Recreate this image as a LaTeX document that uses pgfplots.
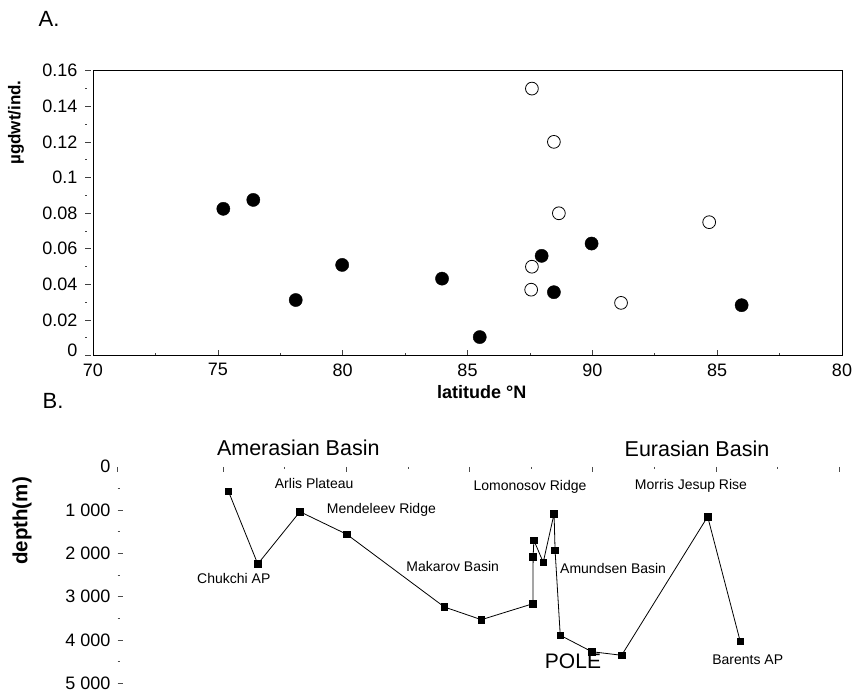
\documentclass[border=0pt]{standalone}
\usepackage{fontspec}
\setmainfont{Liberation Sans}
\usepackage{pgfplots}
\pgfplotsset{compat=1.18}
\begin{document}
\begin{tikzpicture}[x=1pt,y=1pt]
\path[use as bounding box] (0,0) rectangle (862,693);
% ---------------- Panel A ----------------
\begin{axis}[
  at={(93pt,337.4pt)}, anchor=south west,
  scale only axis, width=749pt, height=285pt,
  xmin=70, xmax=100, ymin=0, ymax=0.16,
  xtick={70,75,80,85,90,95,100},
  xticklabels={70,75,80,85,90,85,80},
  minor xtick={72.5,77.5,82.5,87.5,92.5,97.5},
  ytick={0,0.02,0.04,0.06,0.08,0.1,0.12,0.14,0.16},
  yticklabels={\raisebox{11.5pt}{0}\hspace{-5pt},0.02,0.04,0.06,0.08,0.1,0.12,0.14,0.16},
  minor ytick={0.01,0.03,0.05,0.07,0.09,0.11,0.13,0.15},
  tick pos=left, tick align=inside,
  major tick length=5.5pt, minor tick length=2.3pt,
  tick style={line width=0.6pt, black!75},
  y tick style={xshift=-8pt},
  axis line style={line width=0.8pt},
  tick label style={font=\fontsize{18}{20}\selectfont},
  yticklabel style={xshift=-12pt},
  xticklabel style={yshift=-4.4pt},
  /pgf/number format/assume math mode=true,
  clip=false,
]
\addplot[only marks, mark=*, mark size=6.6pt, mark options={fill=black, draw=black}] coordinates {
(75.22,0.0824) (76.42,0.0874) (78.12,0.0312) (79.98,0.0509) (83.98,0.0432)
(85.49,0.0104) (87.97,0.0560) (88.46,0.0356) (89.97,0.0629) (95.98,0.0283)
};
\addplot[only marks, mark=*, mark size=6.4pt, mark options={fill=white, draw=black, line width=0.8pt}] coordinates {
(87.58,0.1499) (88.46,0.1200) (88.66,0.0799) (87.58,0.0499) (87.55,0.0370)
(91.15,0.0296) (94.68,0.0749)
};
\end{axis}
% ---------------- Panel B ----------------
\begin{axis}[
  at={(117.5pt,9.7pt)}, anchor=south west,
  scale only axis, width=721.8pt, height=216.5pt,
  xmin=70.72, xmax=100, ymin=0, ymax=5000, y dir=reverse,
  axis x line=top, axis y line=left, axis line style={draw=none,-},
  tick align=inside,
  xtick={70.72,75,80,85,90,95,100},
  xticklabels={\relax,\relax,\relax,\relax,\relax,\relax,\relax},
  minor xtick={77.5,82.5,87.5,92.5,97.5},
  ytick={1000,2000,3000,4000,5000},
  yticklabels={1 000,2 000,3 000,4 000,5 000},
  extra y ticks={0}, extra y tick labels={0},
  extra y tick style={major tick length=0pt},
  minor ytick={500,1500,2500,3500,4500},
  major tick length=5.6pt, minor tick length=2.4pt,
  tick style={line width=0.6pt, black!70},
  tick label style={font=\fontsize{18}{20}\selectfont},
  yticklabel style={xshift=-3.5pt},
  /pgf/number format/assume math mode=true,
  clip=false,
]
\addplot[black, line width=0.8pt, mark=square*, mark size=3.3pt, mark options={solid, fill=black}] coordinates {
(75.22,566) (76.41,2245) (78.12,1037) (80.02,1559) (83.98,3238) (85.48,3531)
(87.57,3162) (87.58,2076) (87.61,1697) (87.99,2206) (88.43,1083) (88.47,1928)
(88.68,3891) (89.96,4270) (91.17,4353) (94.66,1152) (95.98,4030)
};
\end{axis}
% ---------------- Labels ----------------
\node[anchor=base, font=\fontsize{22}{24}\selectfont] at (49,666.5) {A.};
\node[anchor=base, font=\fontsize{22}{24}\selectfont] at (53,284.7) {B.};
\node[rotate=90, anchor=center, font=\fontsize{17}{19}\selectfont\bfseries] at (16,570.5) {µgdwt/ind.};
\node[anchor=base, font=\fontsize{18}{20}\selectfont\bfseries] at (481.7,294.7) {latitude °N};
\node[rotate=90, anchor=center, font=\fontsize{20.5}{22}\selectfont\bfseries] at (22,172) {depth(m)};
\node[anchor=base, font=\fontsize{21.5}{23}\selectfont] at (298.3,237.3) {Amerasian Basin};
\node[anchor=base, font=\fontsize{21.5}{23}\selectfont] at (697,236) {Eurasian Basin};
\node[anchor=base, font=\fontsize{14}{16}\selectfont] at (314.2,204) {Arlis Plateau};
\node[anchor=base west, inner sep=0pt, font=\fontsize{14}{16}\selectfont] at (326.7,179) {Mendeleev Ridge};
\node[anchor=base, font=\fontsize{14}{16}\selectfont] at (233.8,109.7) {Chukchi AP};
\node[anchor=base, font=\fontsize{14}{16}\selectfont] at (452.7,121.3) {Makarov Basin};
\node[anchor=base, font=\fontsize{14}{16}\selectfont] at (530,202) {Lomonosov Ridge};
\node[anchor=base, font=\fontsize{14}{16}\selectfont] at (691,203) {Morris Jesup Rise};
\node[anchor=base west, inner sep=0pt, font=\fontsize{14}{16}\selectfont] at (560,119) {Amundsen Basin};
\node[anchor=base, font=\fontsize{21}{23}\selectfont] at (573,24.8) {POLE};
\node[anchor=base, font=\fontsize{14}{16}\selectfont] at (747.7,28.7) {Barents AP};
\end{tikzpicture}
\end{document}
